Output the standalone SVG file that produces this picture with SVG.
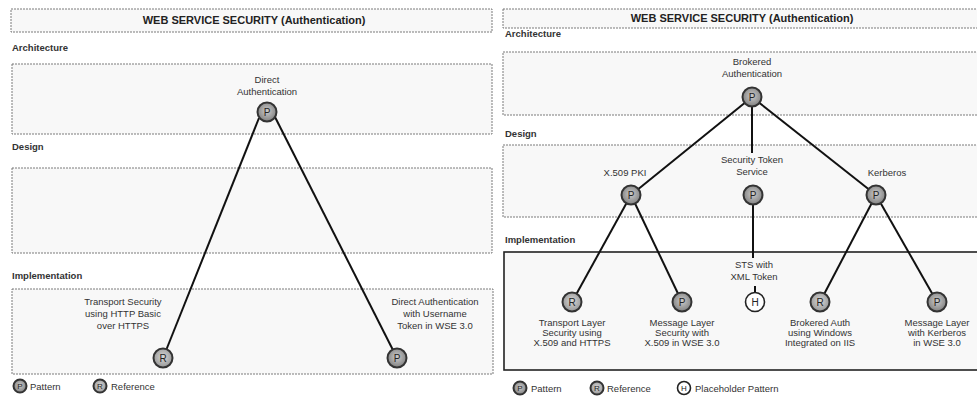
<svg xmlns="http://www.w3.org/2000/svg" width="977" height="400" viewBox="0 0 977 400">
  <defs>
    <radialGradient id="gP" cx="50%" cy="45%" r="55%">
      <stop offset="0" stop-color="#cccccc"/>
      <stop offset="1" stop-color="#808080"/>
    </radialGradient>
    <radialGradient id="gR" cx="50%" cy="45%" r="55%">
      <stop offset="0" stop-color="#d8d8d8"/>
      <stop offset="1" stop-color="#969696"/>
    </radialGradient>
  </defs>
  <style>
    .band { fill: #f8f8f8; stroke: #7a7a7a; stroke-width: 1; stroke-dasharray: 2 1; }
    .impl { fill: #f8f8f8; stroke: #222; stroke-width: 1.6; }
    .title { font-family: "Liberation Sans", Arial, sans-serif; font-size: 11px; font-weight: bold; fill: #222; text-anchor: middle; }
    .layer { font-family: "Liberation Sans", Arial, sans-serif; font-size: 9.5px; font-weight: bold; fill: #333; }
    .lbl { font-family: "Liberation Sans", Arial, sans-serif; font-size: 9.5px; fill: #333; text-anchor: middle; }
    .leg { font-family: "Liberation Sans", Arial, sans-serif; font-size: 9.5px; fill: #333; }
    .p { fill: url(#gP); stroke: #333; stroke-width: 2; }
    .r { fill: url(#gR); stroke: #333; stroke-width: 2; }
    .h { fill: #fff; stroke: #222; stroke-width: 1.6; }
    .ltr { font-family: "Liberation Sans", Arial, sans-serif; font-size: 10px; fill: #222; text-anchor: middle; }
    .ltrs { font-family: "Liberation Sans", Arial, sans-serif; font-size: 8px; fill: #222; text-anchor: middle; }
    .edge { stroke: #111; stroke-width: 2; fill: none; }
  </style>

  <rect width="977" height="400" fill="#fff"/>

  <!-- Left panel: direct authentication -->
  <g id="left-panel">
    <rect class="band" x="11" y="9" width="481" height="23"/>
    <text class="title" x="254" y="24">WEB SERVICE SECURITY (Authentication)</text>
    <text class="layer" x="12" y="51">Architecture</text>
    <rect class="band" x="12" y="64" width="480" height="70"/>
    <text class="layer" x="12" y="150">Design</text>
    <rect class="band" x="12" y="168" width="480" height="85"/>
    <text class="layer" x="12" y="279">Implementation</text>
    <rect class="band" x="12" y="289" width="481" height="85"/>
  </g>

  <!-- Right panel: brokered authentication -->
  <g id="right-panel">
    <rect class="band" x="503" y="9" width="480" height="19"/>
    <text class="title" x="742" y="22">WEB SERVICE SECURITY (Authentication)</text>
    <text class="layer" x="505" y="37">Architecture</text>
    <rect class="band" x="503" y="52" width="480" height="63"/>
    <text class="layer" x="505" y="137">Design</text>
    <rect class="band" x="503" y="145" width="480" height="72"/>
    <text class="layer" x="505" y="243">Implementation</text>
    <rect class="impl" x="504" y="252" width="480" height="118"/>
  </g>

  <!-- Connectors -->
  <g id="connectors">
    <line class="edge" x1="259" y1="118" x2="163" y2="358"/>
    <line class="edge" x1="275" y1="117" x2="397" y2="358"/>
    <line class="edge" x1="752" y1="97" x2="631" y2="195"/>
    <line class="edge" x1="752" y1="97" x2="752" y2="153"/>
    <line class="edge" x1="752" y1="97" x2="876" y2="195"/>
    <line class="edge" x1="753" y1="195" x2="753" y2="258"/>
    <line class="edge" x1="755" y1="286" x2="755" y2="293"/>
    <line class="edge" x1="631" y1="195" x2="572" y2="302"/>
    <line class="edge" x1="631" y1="195" x2="682" y2="302"/>
    <line class="edge" x1="876" y1="195" x2="820" y2="302"/>
    <line class="edge" x1="876" y1="195" x2="937" y2="302"/>
  </g>

  <!-- Left nodes -->
  <g id="direct-auth">
    <text class="lbl" x="267" y="83">Direct</text>
    <text class="lbl" x="267" y="95">Authentication</text>
    <circle class="p" cx="267" cy="112" r="9.5"/>
    <text class="ltr" x="267" y="115.5">P</text>
  </g>
  <g id="transport-http-basic">
    <text class="lbl" x="123" y="305">Transport Security</text>
    <text class="lbl" x="123" y="317">using HTTP Basic</text>
    <text class="lbl" x="123" y="329">over HTTPS</text>
    <circle class="r" cx="163" cy="358" r="9.5"/>
    <text class="ltr" x="163" y="361.5">R</text>
  </g>
  <g id="direct-auth-username">
    <text class="lbl" x="435" y="305">Direct Authentication</text>
    <text class="lbl" x="435" y="317">with Username</text>
    <text class="lbl" x="435" y="329">Token in WSE 3.0</text>
    <circle class="p" cx="397" cy="358" r="9.5"/>
    <text class="ltr" x="397" y="361.5">P</text>
  </g>

  <!-- Right nodes -->
  <g id="brokered-auth">
    <text class="lbl" x="752" y="65">Brokered</text>
    <text class="lbl" x="752" y="77">Authentication</text>
    <circle class="p" cx="752" cy="97" r="9.5"/>
    <text class="ltr" x="752" y="100.5">P</text>
  </g>
  <g id="x509-pki">
    <text class="lbl" x="625" y="176">X.509 PKI</text>
    <circle class="p" cx="631" cy="195" r="9.5"/>
    <text class="ltr" x="631" y="198.5">P</text>
  </g>
  <g id="sts">
    <text class="lbl" x="752" y="163">Security Token</text>
    <text class="lbl" x="752" y="175">Service</text>
    <circle class="p" cx="753" cy="195" r="9.5"/>
    <text class="ltr" x="753" y="198.5">P</text>
  </g>
  <g id="kerberos">
    <text class="lbl" x="887" y="176">Kerberos</text>
    <circle class="p" cx="876" cy="195" r="9.5"/>
    <text class="ltr" x="876" y="198.5">P</text>
  </g>
  <g id="tls-x509">
    <circle class="r" cx="572" cy="302" r="9.5"/>
    <text class="ltr" x="572" y="305.5">R</text>
    <text class="lbl" x="572" y="326">Transport Layer</text>
    <text class="lbl" x="572" y="336">Security using</text>
    <text class="lbl" x="572" y="346">X.509 and HTTPS</text>
  </g>
  <g id="msg-x509">
    <circle class="p" cx="682" cy="302" r="9.5"/>
    <text class="ltr" x="682" y="305.5">P</text>
    <text class="lbl" x="682" y="326">Message Layer</text>
    <text class="lbl" x="682" y="336">Security with</text>
    <text class="lbl" x="682" y="346">X.509 in WSE 3.0</text>
  </g>
  <g id="sts-xml">
    <text class="lbl" x="754" y="268">STS with</text>
    <text class="lbl" x="754" y="280">XML Token</text>
    <circle class="h" cx="755" cy="302" r="9.5"/>
    <text class="ltr" x="755" y="305.5">H</text>
  </g>
  <g id="brokered-windows">
    <circle class="r" cx="820" cy="302" r="9.5"/>
    <text class="ltr" x="820" y="305.5">R</text>
    <text class="lbl" x="820" y="326">Brokered Auth</text>
    <text class="lbl" x="820" y="336">using Windows</text>
    <text class="lbl" x="820" y="346">Integrated on IIS</text>
  </g>
  <g id="msg-kerberos">
    <circle class="p" cx="937" cy="302" r="9.5"/>
    <text class="ltr" x="937" y="305.5">P</text>
    <text class="lbl" x="937" y="326">Message Layer</text>
    <text class="lbl" x="937" y="336">with Kerberos</text>
    <text class="lbl" x="937" y="346">in WSE 3.0</text>
  </g>

  <!-- Legends -->
  <g id="legend-left">
    <circle class="p" cx="20" cy="386" r="6.5"/>
    <text class="ltrs" x="20" y="389">P</text>
    <text class="leg" x="30" y="389.5">Pattern</text>
    <circle class="r" cx="100" cy="386" r="6.5"/>
    <text class="ltrs" x="100" y="389">R</text>
    <text class="leg" x="111" y="389.5">Reference</text>
  </g>
  <g id="legend-right">
    <circle class="p" cx="520" cy="388" r="6.5"/>
    <text class="ltrs" x="520" y="391">P</text>
    <text class="leg" x="531" y="391.5">Pattern</text>
    <circle class="r" cx="597" cy="388" r="6.5"/>
    <text class="ltrs" x="597" y="391">R</text>
    <text class="leg" x="607" y="391.5">Reference</text>
    <circle class="h" cx="684" cy="388" r="6.5"/>
    <text class="ltrs" x="684" y="391">H</text>
    <text class="leg" x="695" y="391.5">Placeholder Pattern</text>
  </g>
</svg>
